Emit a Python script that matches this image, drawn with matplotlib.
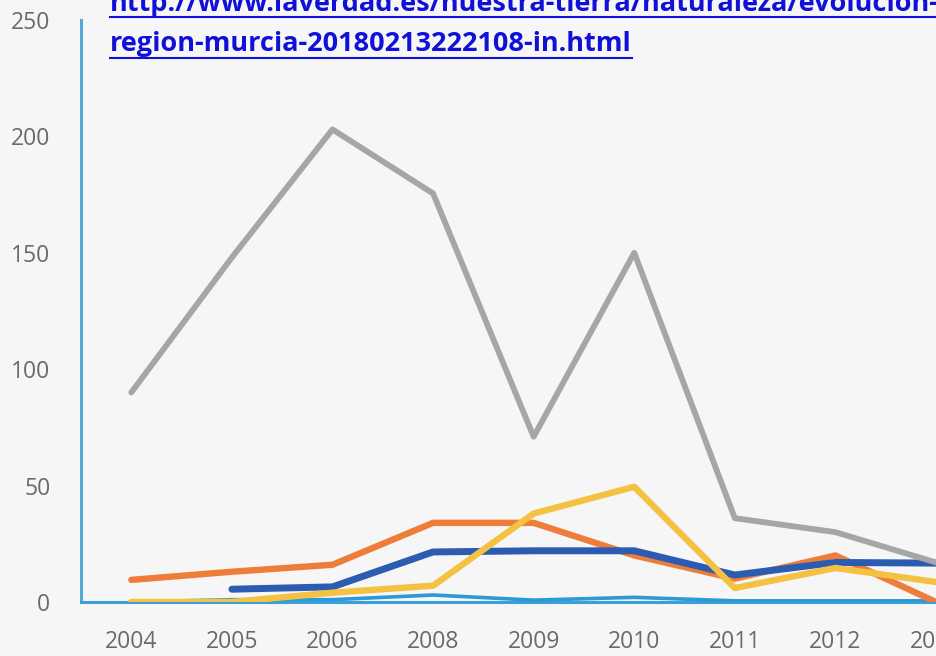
import matplotlib.pyplot as plt
from matplotlib.lines import Line2D

# Data
years = ["2004", "2005", "2006", "2008", "2009", "2010", "2011", "2012", "2013"]
gray_vals = [90, 148, 203, 175.5, 71, 150, 36, 30, 17]
orange_vals = [9.5, 13, 16, 34, 34, 20, 10, 20, 0]
yellow_vals = [0, 0, 4, 7, 38, 49.5, 6, 14.6, 8.6]
darkblue_vals = [None, 5.5, 6.5, 21.5, 22, 22, 11.6, 17, 16.7]
lightblue_vals = [0, 1, 1, 3, 0.8, 2, 0.5, 0.5, 0.5]
y_ticks = [0, 50, 100, 150, 200, 250]

link_line1 = "http://www.laverdad.es/nuestra-tierra/naturaleza/evolucion-"
link_line2 = "region-murcia-20180213222108-in.html"

bg = "#f6f6f6"
fig = plt.figure(figsize=(9.36, 6.56), dpi=100, facecolor=bg)
ax = fig.add_axes([81 / 936, 54 / 656, 855 / 936, 582 / 656], facecolor=bg)

x = list(range(len(years)))


def draw(vals, color, lw, z):
    xs = [i for i, v in zip(x, vals) if v is not None]
    ys = [v for v in vals if v is not None]
    ax.plot(xs, ys, color=color, lw=lw, zorder=z, solid_capstyle="round",
            solid_joinstyle="round", clip_on=True)


draw(lightblue_vals, "#2b9ad6", 2.6, 3)
draw(orange_vals, "#ee7d3a", 4.6, 4)
draw(darkblue_vals, "#2c5cb2", 5.0, 5)
draw(yellow_vals, "#f4c143", 4.6, 6)
draw(gray_vals, "#a6a6a6", 4.2, 7)

ax.set_xlim(-0.5, 8)
ax.set_ylim(0, 250)
ax.set_xticks(x)
ax.set_xticklabels(years)
ax.set_yticks(y_ticks)
ax.tick_params(length=0, labelsize=16.5, labelcolor="#6a6a6a")
ax.tick_params(axis="y", pad=22)
ax.tick_params(axis="x", pad=20)
for lab in ax.get_xticklabels() + ax.get_yticklabels():
    lab.set_family("Open Sans")

for s in ["top", "right"]:
    ax.spines[s].set_visible(False)
ax.spines["left"].set_color("#5ba6d4")
ax.spines["left"].set_linewidth(2.2)
ax.spines["bottom"].set_color("#3aa0dc")
ax.spines["bottom"].set_linewidth(2.2)

# Link text (blue, bold, underlined)
link_color = "#1010d8"
t1 = fig.text(110 / 936, 1 - 11 / 656, link_line1, color=link_color, fontsize=19.5,
              fontweight="bold", family="Open Sans", va="baseline", ha="left")
t2 = fig.text(110 / 936, 1 - 51 / 656, link_line2, color=link_color, fontsize=19.5,
              fontweight="bold", family="Open Sans", va="baseline", ha="left")

fig.canvas.draw()
r = fig.canvas.get_renderer()
for t, y_px in [(t1, 17), (t2, 58)]:
    bb = t.get_window_extent(r)
    yy = 1 - y_px / 656
    fig.add_artist(Line2D([bb.x0 / 936, bb.x1 / 936], [yy, yy], color=link_color, lw=1.5,
                          transform=fig.transFigure))

fig.savefig("out.png", dpi=100, facecolor=bg)
